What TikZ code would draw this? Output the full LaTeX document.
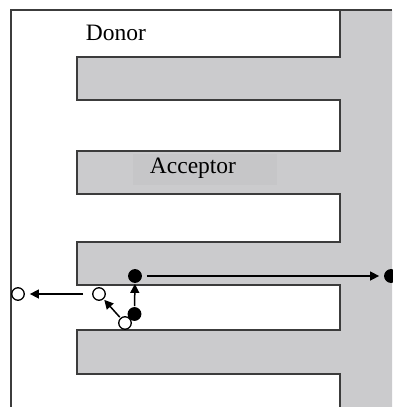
\documentclass[tikz,border=0pt]{standalone}
\usepackage{fontspec}
\setmainfont{Liberation Serif}
\usetikzlibrary{arrows.meta}
\definecolor{acc}{HTML}{CBCBCD}
\definecolor{accbox}{HTML}{C6C6C8}
\definecolor{edge}{HTML}{3C3C3C}
\tikzset{
  outline/.style={draw=edge, line width=1.4pt},
  carrier/.style={circle, minimum size=12.5pt, inner sep=0pt, line width=1.3pt, draw=black},
  electron/.style={carrier, fill=black},
  hole/.style={carrier, fill=white},
  hop/.style={line width=1.5pt, -{Triangle[length=9pt,width=9pt]}},
  lbl/.style={font=\fontsize{23.5}{26}\selectfont, inner sep=0pt}
}
\begin{document}
\begin{tikzpicture}[x=1pt, y=-1pt]
\useasboundingbox (0,0) rectangle (392,407);
\fill[white] (0,0) rectangle (392,407);
% interdigitated acceptor comb
\fill[acc] (340,10) -- (392,10) -- (392,407) -- (340,407) -- (340,374) -- (77,374)
  -- (77,330) -- (340,330) -- (340,285) -- (77,285) -- (77,242) -- (340,242)
  -- (340,194) -- (77,194) -- (77,151) -- (340,151) -- (340,100) -- (77,100)
  -- (77,57) -- (340,57) -- cycle;
\draw[outline] (340,10) -- (340,57) -- (77,57) -- (77,100) -- (340,100)
  -- (340,151) -- (77,151) -- (77,194) -- (340,194) -- (340,242) -- (77,242)
  -- (77,285) -- (340,285) -- (340,330) -- (77,330) -- (77,374) -- (340,374) -- (340,407);
% donor boundary
\draw[outline] (11,407) -- (11,10) -- (392,10);
% labels
\fill[accbox] (133,154) rectangle (277,185);
\node[lbl] (donor) at (116,33) {Donor};
\node[lbl] (acceptor) at (193,168.5) {Acceptor};
% charge carriers
\node[electron] (e1) at (135,276) {};
\node[electron] (e2) at (134.5,314) {};
\node[electron] (e3) at (391,276) {};
\node[hole] (h1) at (125,323) {};
\node[hole] (h2) at (99,294) {};
\node[hole] (h3) at (18,294) {};
% transfer and transport paths
\draw[hop, shorten <=1pt, shorten >=1pt] (e2) -- (e1);
\draw[hop, shorten <=1pt, shorten >=1pt] (h1) -- (h2);
\draw[hop, shorten <=9pt, shorten >=5pt] (h2) -- (h3);
\draw[hop, shorten <=5pt, shorten >=5pt] (e1) -- (e3);
\end{tikzpicture}
\end{document}
